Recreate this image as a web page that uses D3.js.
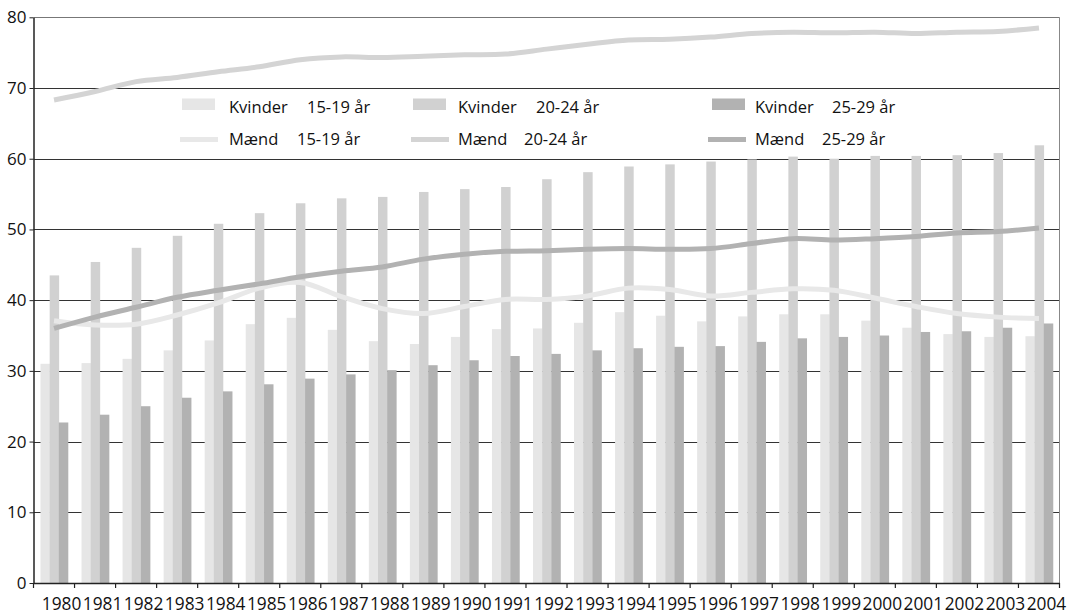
<!DOCTYPE html>
<html>
<head>
<meta charset="utf-8">
<script src="https://cdn.jsdelivr.net/npm/d3@7/dist/d3.min.js"></script>
<style>
  body { margin: 0; background: #fff; }
  text { font-family: "Open Sans", sans-serif; fill: #111; }
</style>
</head>
<body>
<script>
'use strict';

var years = ["1980","1981","1982","1983","1984","1985","1986","1987","1988","1989","1990","1991","1992",
             "1993","1994","1995","1996","1997","1998","1999","2000","2001","2002","2003","2004"];
var kvinder1519 = [31.0,31.1,31.7,32.9,34.3,36.6,37.5,35.8,34.2,33.8,34.8,35.9,36.0,36.8,38.3,37.8,37.0,37.7,38.0,38.0,37.1,36.1,35.2,34.8,34.9];
var kvinder2024 = [43.5,45.4,47.4,49.1,50.8,52.3,53.7,54.4,54.6,55.3,55.7,56.0,57.1,58.1,58.9,59.2,59.6,59.9,60.3,60.0,60.4,60.4,60.5,60.8,61.9];
var kvinder2529 = [22.7,23.8,25.0,26.2,27.1,28.1,28.9,29.5,30.1,30.8,31.5,32.1,32.4,32.9,33.2,33.4,33.5,34.1,34.6,34.8,35.0,35.5,35.6,36.1,36.7];
var maend1519 = [37.1,36.5,36.6,37.9,39.6,41.7,42.5,40.5,38.8,38.1,39.1,40.1,40.1,40.6,41.7,41.5,40.6,41.1,41.6,41.4,40.3,39.1,38.1,37.6,37.4];
var maend2024 = [68.3,69.5,70.9,71.5,72.3,73.0,74.0,74.4,74.3,74.5,74.7,74.8,75.5,76.2,76.8,76.9,77.2,77.7,77.9,77.8,77.9,77.7,77.9,78.0,78.5];
var maend2529 = [36.0,37.6,39.0,40.4,41.4,42.3,43.3,44.1,44.7,45.8,46.5,46.9,47.0,47.2,47.3,47.2,47.3,48.0,48.7,48.5,48.7,49.0,49.5,49.7,50.2];
var yTicks = [0,10,20,30,40,50,60,70,80];
var ageLabels = ["15-19 år","20-24 år","25-29 år"];

var myChart = {};
myChart.left = 33.5;
myChart.right = 1059.5;
myChart.top = 17.3;
myChart.bottom = 583;
myChart.barColors = ["#e6e6e6","#d1d1d1","#b2b2b2"];
myChart.lineColors = ["#e8e8e8","#d4d4d4","#b2b2b2"];

myChart.xScale = d3.scaleBand().domain(years).range([myChart.left, myChart.right]).padding(0);
myChart.subScale = d3.scaleBand().domain([0,1,2]).range([7, 34.5]).padding(0);
myChart.yScale = d3.scaleLinear().domain([0, 80]).range([myChart.bottom, myChart.top]);

myChart.appendSvg = function(domObj, width, height){
    return d3.select(domObj).append("svg")
        .attr("width", width)
        .attr("height", height);
};

myChart.appendGrid = function(svg){
    var y = myChart.yScale;
    svg.append("g").selectAll("line")
        .data(yTicks.filter(function(d){ return d > 0; }))
        .enter().append("line")
        .attr("x1", myChart.left).attr("x2", myChart.right)
        .attr("y1", function(d){ return Math.round(y(d)) + 0.5; })
        .attr("y2", function(d){ return Math.round(y(d)) + 0.5; })
        .attr("stroke", function(d){ return d === 80 ? "#777" : "#333"; })
        .attr("stroke-width", 1);
    svg.append("line")
        .attr("x1", myChart.right).attr("x2", myChart.right)
        .attr("y1", myChart.top).attr("y2", myChart.bottom)
        .attr("stroke", "#888");
};

myChart.appendBars = function(svg){
    var x = myChart.xScale, sub = myChart.subScale, y = myChart.yScale;
    var series = [kvinder1519, kvinder2024, kvinder2529];
    series.forEach(function(values, s){
        svg.append("g").selectAll("rect")
            .data(values)
            .enter().append("rect")
            .attr("x", function(d, i){ return x(years[i]) + sub(s); })
            .attr("width", sub.bandwidth() + 0.3)
            .attr("y", function(d){ return y(d); })
            .attr("height", function(d){ return y(0) - y(d); })
            .attr("fill", myChart.barColors[s]);
    });
};

myChart.appendLines = function(svg){
    var x = myChart.xScale, y = myChart.yScale;
    var line = d3.line()
        .x(function(d, i){ return x(years[i]) + x.bandwidth() / 2; })
        .y(function(d){ return y(d); })
        .curve(d3.curveCatmullRom.alpha(0.5));
    [maend1519, maend2024, maend2529].forEach(function(values, s){
        svg.append("path")
            .datum(values)
            .attr("d", line)
            .attr("fill", "none")
            .attr("stroke", myChart.lineColors[s])
            .attr("stroke-width", 5);
    });
};

myChart.appendAxes = function(svg){
    var x = myChart.xScale, y = myChart.yScale;
    var yAxis = svg.append("g")
        .attr("transform", "translate(" + myChart.left + ",0)")
        .call(d3.axisLeft(y).tickValues(yTicks).tickSize(4).tickSizeOuter(0));
    yAxis.select(".domain").attr("stroke", "#222").attr("stroke-width", 1.5);
    yAxis.selectAll(".tick line").attr("stroke", "#222");
    yAxis.selectAll(".tick text")
        .attr("x", -7)
        .style("font-family", "Open Sans")
        .style("font-size", "17px")
        .attr("fill", "#111");

    var xAxis = svg.append("g")
        .attr("transform", "translate(0," + myChart.bottom + ")")
        .call(d3.axisBottom(x).tickSize(0).tickSizeOuter(0));
    xAxis.select(".domain").attr("stroke", "#222").attr("stroke-width", 1.5);
    xAxis.selectAll(".tick text")
        .attr("dx", 7.5)
        .attr("y", 0)
        .attr("dy", 27)
        .style("font-family", "Open Sans")
        .style("font-size", "17.3px")
        .attr("fill", "#111");

    // tick marks between categories
    var bounds = years.map(function(d){ return x(d); }).concat([myChart.right]);
    svg.append("g").selectAll("line")
        .data(bounds)
        .enter().append("line")
        .attr("x1", function(d){ return d; }).attr("x2", function(d){ return d; })
        .attr("y1", myChart.bottom).attr("y2", myChart.bottom + 5)
        .attr("stroke", "#222").attr("stroke-width", 1.2);
};

myChart.appendLegend = function(svg){
    var cols = [{sw: 182, name: 229, age: 307}, {sw: 413, name: 458, age: 536}, {sw: 712, name: 755, age: 832}];
    var cols2 = [{sw: 180, name: 229, age: 297}, {sw: 411, name: 458, age: 524}, {sw: 708, name: 755, age: 822}];
    var g = svg.append("g").style("font-size", "16.5px");
    ageLabels.forEach(function(age, i){
        var c = cols[i], c2 = cols2[i];
        g.append("rect")
            .attr("x", c.sw).attr("y", 98.5)
            .attr("width", 33).attr("height", 11.5)
            .attr("fill", myChart.barColors[i]);
        g.append("text").attr("x", c.name).attr("y", 112.5).text("Kvinder");
        g.append("text").attr("x", c.age).attr("y", 112.5).text(age);

        g.append("line")
            .attr("x1", c2.sw).attr("x2", c2.sw + 38)
            .attr("y1", 139.5).attr("y2", 139.5)
            .attr("stroke", myChart.lineColors[i]).attr("stroke-width", 5);
        g.append("text").attr("x", c2.name).attr("y", 144.5).text("Mænd");
        g.append("text").attr("x", c2.age).attr("y", 144.5).text(age);
    });
};

myChart.run = function(){
    var svg = myChart.appendSvg("body", 1072, 614);
    myChart.appendGrid(svg);
    myChart.appendBars(svg);
    myChart.appendLines(svg);
    myChart.appendAxes(svg);
    myChart.appendLegend(svg);
};

window.onload = myChart.run;
</script>
</body>
</html>
